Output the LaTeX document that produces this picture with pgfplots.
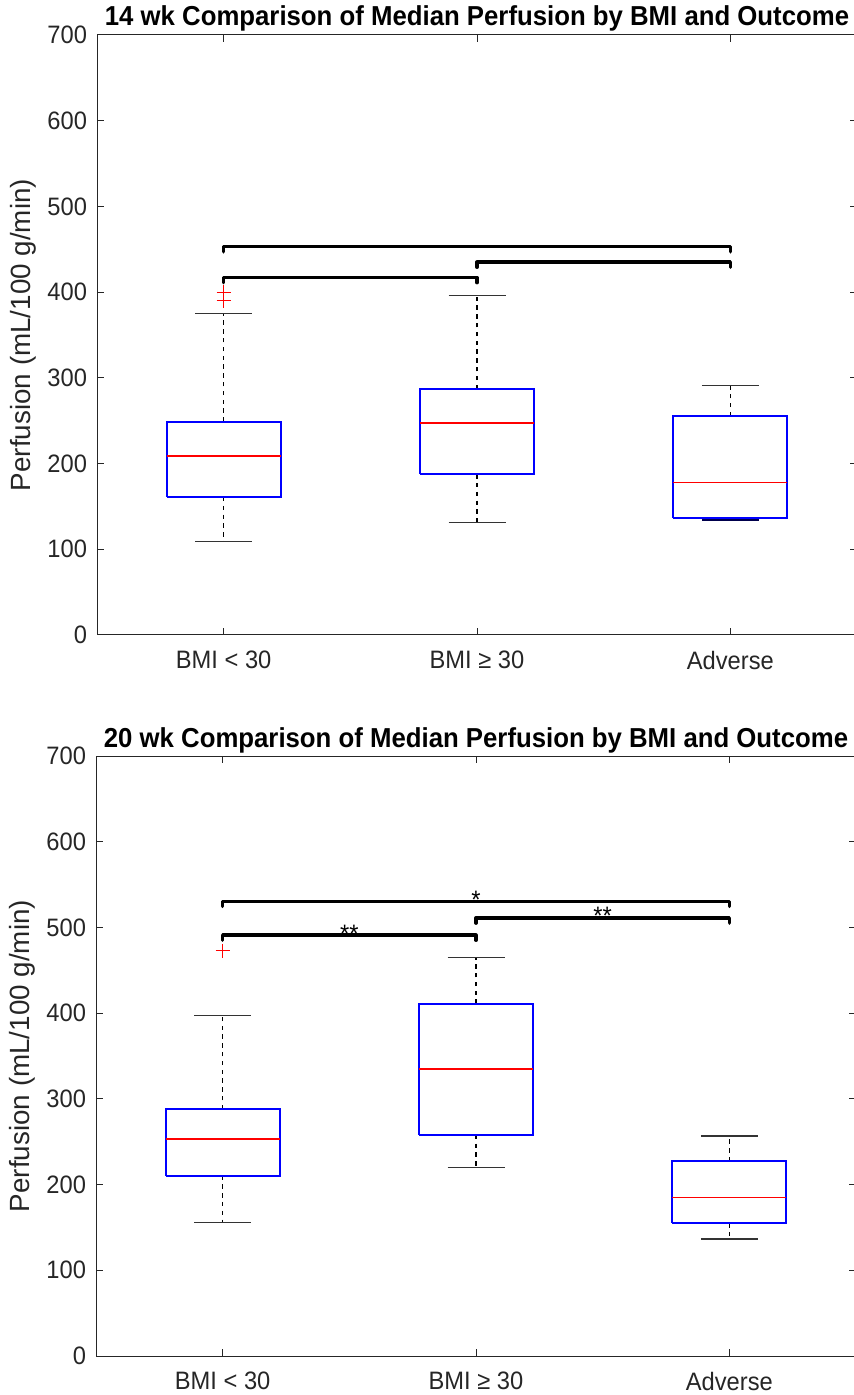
\documentclass[border=0pt]{standalone}
\usepackage{fontspec}
\setmainfont{Liberation Sans}[FakeStretch=0.94]
\newfontfamily\lblfont{Liberation Sans}
\usepackage{pgfplots}
\pgfplotsset{compat=1.18}
\definecolor{axgray}{rgb}{0.15,0.15,0.15}
\definecolor{mblue}{rgb}{0,0,1}
\definecolor{mred}{rgb}{1,0,0}

\tikzset{sigstar/.style={anchor=base, inner sep=0pt, font=\fontsize{12.6}{15}\selectfont}}
\pgfplotsset{
  mystyle/.style={
    scale only axis, width=380pt, height=300pt,
    xmin=0.5, xmax=3.5, ymin=0, ymax=700,
    xtick={1,2,3}, xticklabels={BMI < 30, BMI ≥ 30, Adverse},
    ytick={0,100,...,700},
    minor tick num=0,
    tick align=inside,
    major tick length=3.5pt,
    axis line style={axgray, line width=0.5pt},
    every tick/.style={axgray, line width=0.5pt},
    /pgf/number format/assume math mode=true,
    tick label style={font=\fontsize{12.6}{15}\selectfont, text=axgray},
    yticklabel style={xshift=-1.5pt},
    xticklabel style={yshift=-4.5pt},
    every axis title/.style={at={(0.5,1)}, anchor=base, yshift=4.5pt, font=\bfseries\fontsize{13.7}{16}\selectfont},
    ylabel={Perfusion (mL/100 g/min)},
    ylabel style={font=\lblfont\fontsize{13.9}{16}\selectfont, text=axgray, at={(axis description cs:-0.097,0.5)}, anchor=center},
    clip=false,
  },
  bx/.style={mblue, line width=1pt, mark=none},
  md/.style={mred, line width=0.8pt, mark=none},
  wk/.style={black, line width=0.6pt, dash pattern=on 2.2pt off 2.2pt, mark=none},
  cp/.style={black!80, line width=0.7pt, mark=none},
  outl/.style={only marks, mark=+, mark size=3.5pt, mred, mark options={line width=0.6pt}},
  brk/.style={black, line width=1.7pt, line join=round, line cap=round, mark=none},
}

\begin{document}
\begin{tikzpicture}
% ---------- top: 14 wk ----------
\begin{axis}[mystyle, at={(48.5pt,380pt)}, anchor=south west,
  title={14 wk Comparison of Median Perfusion by BMI and Outcome}]
% group 1: lw 109, q1 161, med 209, q3 249, uw 375
\addplot[wk] coordinates {(1,249) (1,375)};
\addplot[wk] coordinates {(1,161) (1,109)};
\addplot[cp] coordinates {(0.8875,375) (1.1125,375)};
\addplot[cp] coordinates {(0.8875,109) (1.1125,109)};
\addplot[bx] coordinates {(0.775,161) (1.225,161) (1.225,249) (0.775,249) (0.775,161)};
\addplot[md] coordinates {(0.775,209) (1.225,209)};
\addplot[outl] coordinates {(1,400) (1,390)};
% group 2: lw 131, q1 187.5, med 247, q3 287, uw 396
\addplot[wk] coordinates {(2,287) (2,396)};
\addplot[wk] coordinates {(2,187.5) (2,131)};
\addplot[cp] coordinates {(1.8875,396) (2.1125,396)};
\addplot[cp] coordinates {(1.8875,131) (2.1125,131)};
\addplot[bx] coordinates {(1.775,187.5) (2.225,187.5) (2.225,287) (1.775,287) (1.775,187.5)};
\addplot[md] coordinates {(1.775,247) (2.225,247)};
% group 3: lw 134, q1 136, med 178, q3 255.5, uw 291
\addplot[wk] coordinates {(3,255.5) (3,291)};
\addplot[bx] coordinates {(2.775,136) (3.225,136) (3.225,255.5) (2.775,255.5) (2.775,136)};
\addplot[md] coordinates {(2.775,178) (3.225,178)};
\addplot[cp] coordinates {(2.8875,291) (3.1125,291)};
\addplot[cp, black!70!blue, line width=1pt] coordinates {(2.8875,134.5) (3.1125,134.5)};
% significance brackets
\addplot[brk] coordinates {(1,411) (1,417) (2,417) (2,411)};
\addplot[brk] coordinates {(2,429) (2,435) (3,435) (3,429)};
\addplot[brk] coordinates {(1,447) (1,453) (3,453) (3,447)};
\end{axis}
% ---------- bottom: 20 wk ----------
\begin{axis}[mystyle, at={(48pt,19.5pt)}, anchor=south west,
  title={20 wk Comparison of Median Perfusion by BMI and Outcome}]
% group 1: lw 156, q1 210.5, med 253, q3 288, uw 397, outlier 473
\addplot[wk] coordinates {(1,288) (1,397)};
\addplot[wk] coordinates {(1,210.5) (1,156)};
\addplot[cp] coordinates {(0.8875,397) (1.1125,397)};
\addplot[cp] coordinates {(0.8875,156) (1.1125,156)};
\addplot[bx] coordinates {(0.775,210.5) (1.225,210.5) (1.225,288) (0.775,288) (0.775,210.5)};
\addplot[md] coordinates {(0.775,253) (1.225,253)};
\addplot[outl] coordinates {(1,473)};
% group 2: lw 220, q1 258, med 335, q3 411, uw 465
\addplot[wk] coordinates {(2,411) (2,465)};
\addplot[wk] coordinates {(2,258) (2,220)};
\addplot[cp] coordinates {(1.8875,465) (2.1125,465)};
\addplot[cp] coordinates {(1.8875,220) (2.1125,220)};
\addplot[bx] coordinates {(1.775,258) (2.225,258) (2.225,411) (1.775,411) (1.775,258)};
\addplot[md] coordinates {(1.775,335) (2.225,335)};
% group 3: lw 136.5, q1 155, med 185, q3 227, uw 256.5
\addplot[wk] coordinates {(3,227) (3,256.5)};
\addplot[wk] coordinates {(3,155) (3,136.5)};
\addplot[cp] coordinates {(2.8875,256.5) (3.1125,256.5)};
\addplot[cp] coordinates {(2.8875,136.5) (3.1125,136.5)};
\addplot[bx] coordinates {(2.775,155) (3.225,155) (3.225,227) (2.775,227) (2.775,155)};
\addplot[md] coordinates {(2.775,185) (3.225,185)};
% significance brackets
\addplot[brk] coordinates {(1,485) (1,491) (2,491) (2,485)};
\addplot[brk] coordinates {(2,505) (2,511) (3,511) (3,505)};
\addplot[brk] coordinates {(1,524.5) (1,530.5) (3,530.5) (3,524.5)};
\node[sigstar] at (axis cs:1.5,483) {**};
\node[sigstar] at (axis cs:2.5,503) {**};
\node[sigstar] at (axis cs:2,522.5) {*};
\end{axis}
\pgfresetboundingbox
\useasboundingbox (0,0) rectangle (426.5pt,697.5pt);
\end{tikzpicture}
\end{document}
